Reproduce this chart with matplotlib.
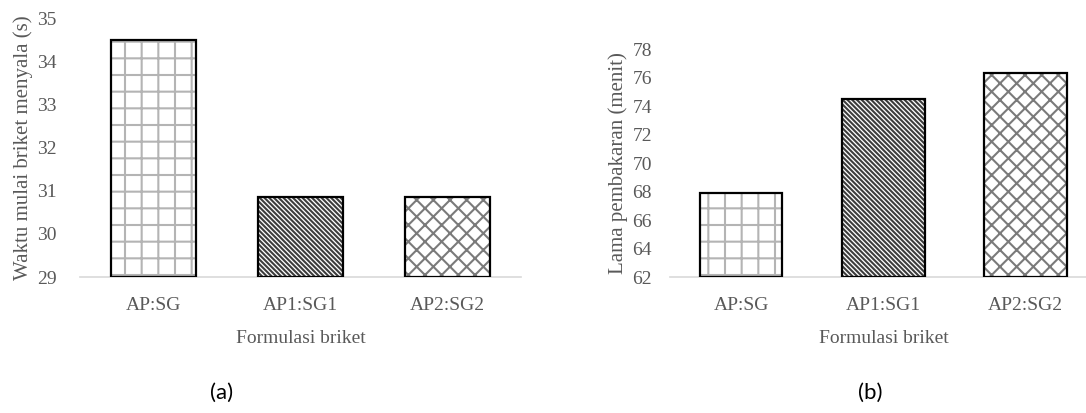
import numpy as np
import matplotlib
matplotlib.use('Agg')
from matplotlib import pyplot as plt

plt.rcParams['font.family'] = ['Liberation Serif', 'DejaVu Serif']
plt.rcParams['hatch.linewidth'] = 1.5

# data
categories = ['AP:SG', 'AP1:SG1', 'AP2:SG2']
waktu_nyala = [34.5, 30.85, 30.85]      # (a) seconds
lama_bakar = [67.9, 74.5, 76.3]         # (b) minutes

hatches = ['+', '\\\\\\\\\\\\\\', 'xx']
hatch_colors = ['#b4b4b4', '#3c3c3c', '#7a7a7a']
gray = '#595959'

fig = plt.figure(figsize=(10.86, 4.13), dpi=100)
ax_a = fig.add_axes([0.0737, 0.329, 0.406, 0.627])
ax_b = fig.add_axes([0.617, 0.329, 0.393, 0.552])


def draw_panel(ax, values, ylim, yticks, ylabel, ypad):
    x = np.arange(len(categories))
    for i in range(len(categories)):
        ax.bar(x[i], values[i] - ylim[0], bottom=ylim[0], width=0.58,
               color='white', edgecolor=hatch_colors[i], hatch=hatches[i],
               linewidth=0, zorder=2)
        ax.bar(x[i], values[i] - ylim[0], bottom=ylim[0], width=0.58,
               fill=False, edgecolor='black', linewidth=1.6, zorder=3)
    ax.set_xlim(-0.5, len(categories) - 0.5)
    ax.set_ylim(ylim)
    ax.set_yticks(yticks)
    ax.set_xticks(x)
    ax.set_xticklabels(categories)
    for s in ['top', 'right', 'left']:
        ax.spines[s].set_visible(False)
    ax.spines['bottom'].set_color('#d9d9d9')
    ax.spines['bottom'].set_linewidth(1.2)
    ax.tick_params(axis='both', length=0, labelsize=14, colors=gray)
    ax.tick_params(axis='x', pad=14)
    ax.tick_params(axis='y', pad=ypad)
    ax.set_ylabel(ylabel, fontsize=15, color=gray, labelpad=3)
    ax.set_xlabel('Formulasi briket', fontsize=14, color=gray, labelpad=12)


draw_panel(ax_a, waktu_nyala, (29, 35), np.arange(29, 36, 1),
           'Waktu mulai briket menyala (s)', 17)
draw_panel(ax_b, lama_bakar, (62, 78), np.arange(62, 80, 2),
           'Lama pembakaran (menit)', 13)

fig.text(0.204, 0.035, '(a)', fontsize=16, family=['Lato', 'DejaVu Sans'],
         ha='center')
fig.text(0.801, 0.035, '(b)', fontsize=16, family=['Lato', 'DejaVu Sans'],
         ha='center')

fig.savefig('out.png', dpi=100)
